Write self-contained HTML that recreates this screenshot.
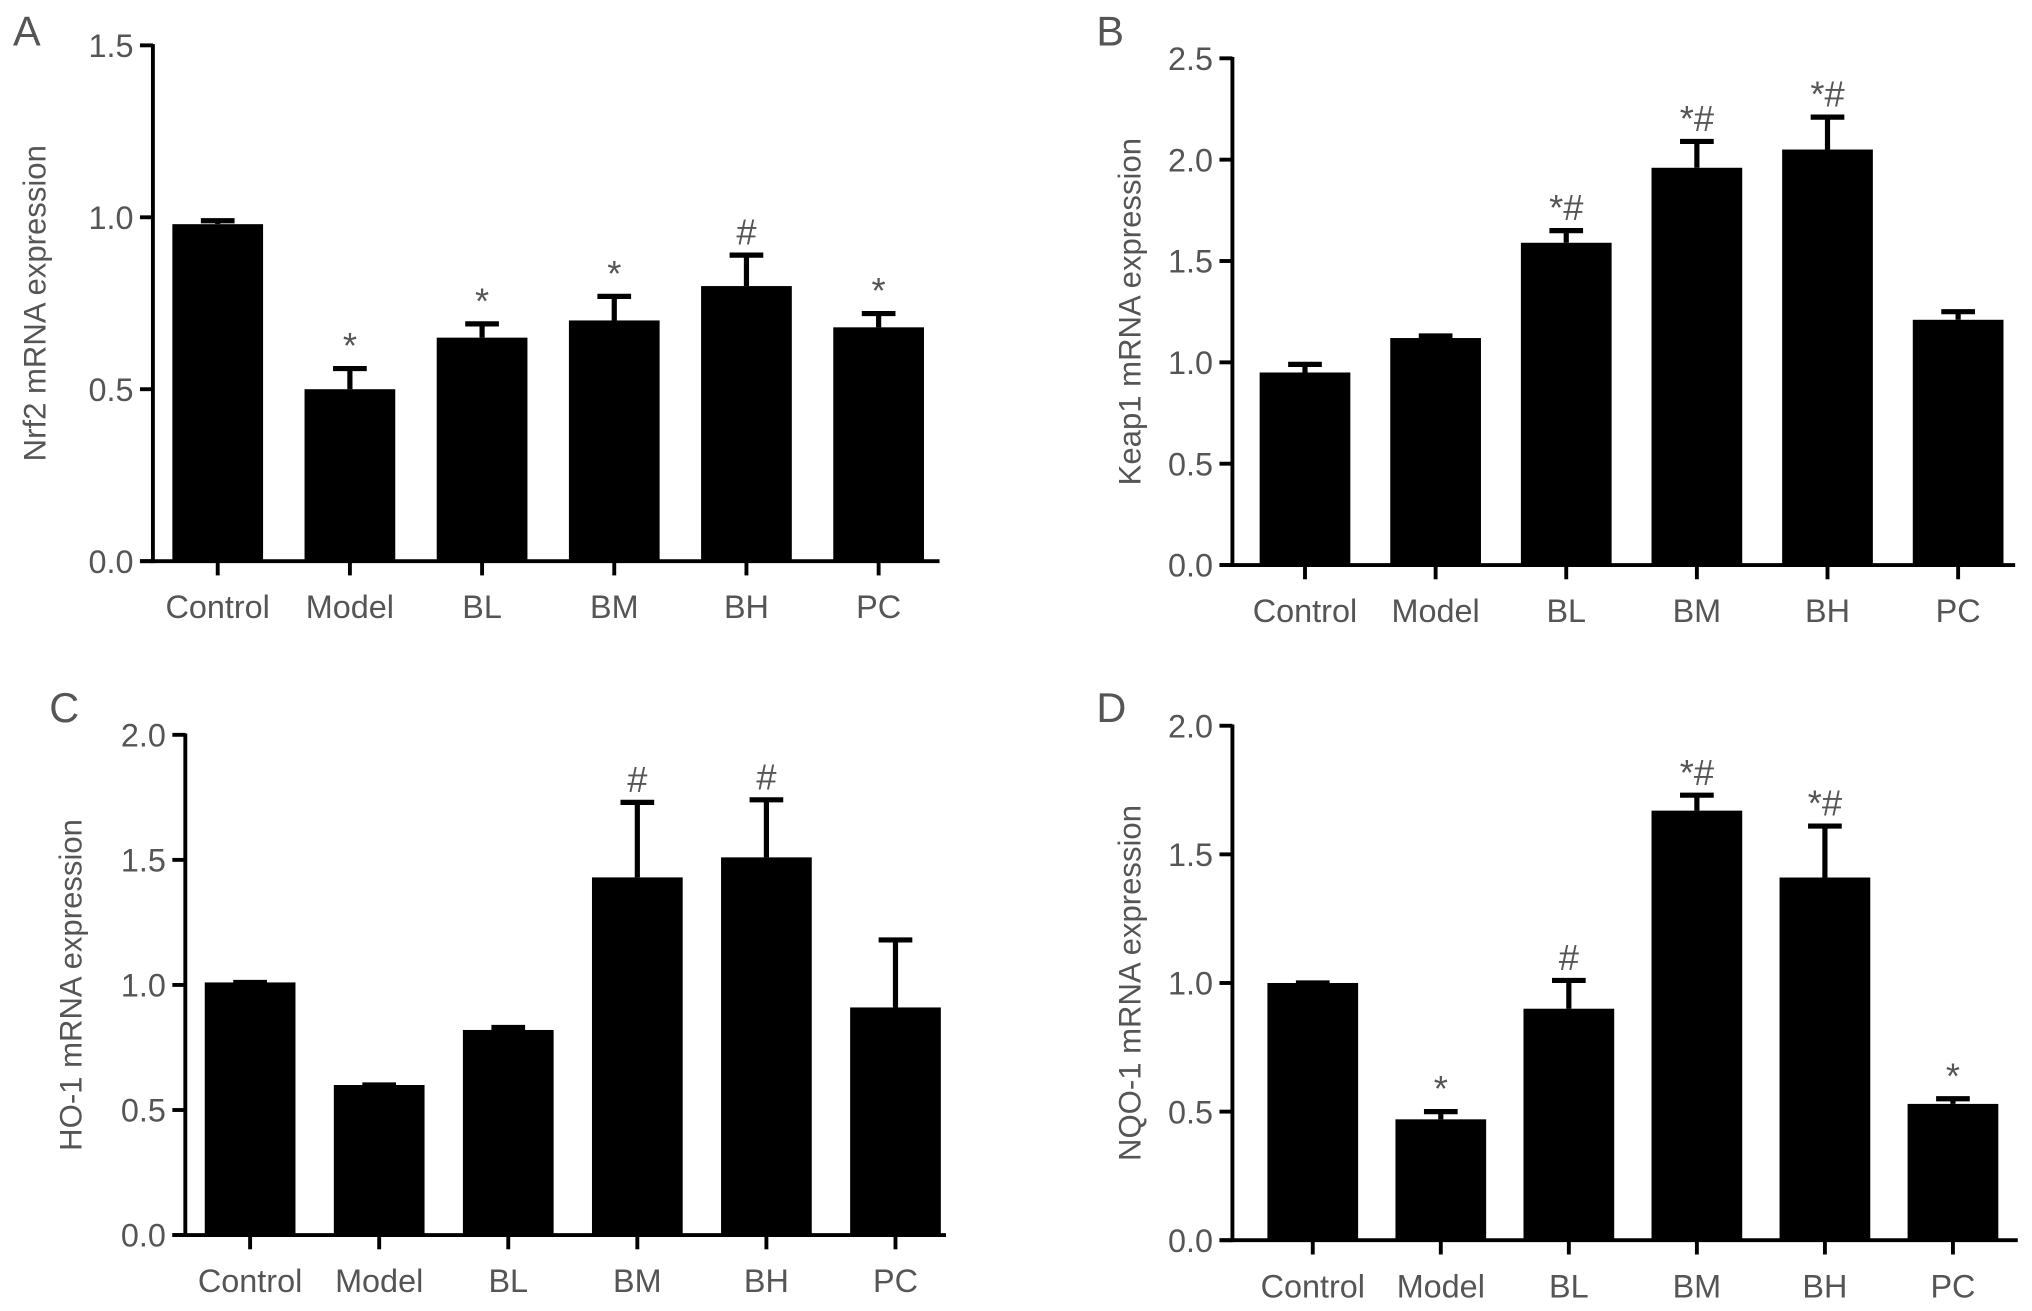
<!DOCTYPE html>
<html><head><meta charset="utf-8"><style>
html,body{margin:0;padding:0;background:#fff;}
svg{display:block;}
text{font-family:"Liberation Sans",sans-serif;fill:#555;}
</style></head><body>
<svg id="fig" width="2032" height="1311" viewBox="0 0 1568 1011.6" preserveAspectRatio="none" xmlns="http://www.w3.org/2000/svg"></svg>
<script>
const categories = ["Control","Model","BL","BM","BH","PC"];
const nrf2Values = [0.98,0.50,0.65,0.70,0.80,0.68];
const nrf2Errors = [0.01,0.06,0.04,0.07,0.09,0.04];
const nrf2Marks = ["","*","*","*","#","*"];
const nrf2Ticks = [0,0.5,1.0,1.5];
const keap1Values = [0.95,1.12,1.59,1.96,2.05,1.21];
const keap1Errors = [0.04,0.01,0.06,0.13,0.16,0.04];
const keap1Marks = ["","","*#","*#","*#",""];
const keap1Ticks = [0,0.5,1.0,1.5,2.0,2.5];
const ho1Values = [1.01,0.60,0.82,1.43,1.51,0.91];
const ho1Errors = [0.0,0.0,0.01,0.30,0.23,0.27];
const ho1Marks = ["","","","#","#",""];
const ho1Ticks = [0,0.5,1.0,1.5,2.0];
const nqo1Values = [1.00,0.47,0.90,1.67,1.41,0.53];
const nqo1Errors = [0.0,0.03,0.11,0.06,0.20,0.02];
const nqo1Marks = ["","*","#","*#","*#","*"];
const nqo1Ticks = [0,0.5,1.0,1.5,2.0];

const NS="http://www.w3.org/2000/svg";
const svg=document.getElementById('fig');
function mk(tag,attrs,parent){const e=document.createElementNS(NS,tag);for(const k in attrs)e.setAttribute(k,attrs[k]);(parent||svg).appendChild(e);return e;}

function panel(cfg){
  const g=mk('g',{});
  
  
  const yMax=cfg.ticks[cfg.ticks.length-1];
  const y=v=>cfg.y0-(v/yMax)*(cfg.y0-cfg.yTop);
  const step=(cfg.xLast-cfg.xFirst)/(categories.length-1);
  const x=i=>cfg.xFirst+i*step;
  const L=mk('text',{x:cfg.letterX,y:cfg.letterY,'font-size':32,fill:'#222'},g);L.textContent=cfg.letter;
  
  
  cfg.values.forEach((v,i)=>{
    const cx=x(i),bw=70;
    const r=mk('rect',{x:cx-bw/2,y:y(v),width:bw,height:cfg.y0-y(v),fill:'#000'},g);
    
    
    const top=v+cfg.errors[i];
    const e=mk('path',{d:`M${cx} ${y(v)}V${y(top)}M${cx-13} ${y(top)}H${cx+13}`,stroke:'#000','stroke-width':4,fill:'none'},g);
    
    
    if(cfg.marks[i]){
      const t=mk('text',{x:cx,y:y(top)-8,'font-size':28,'text-anchor':'middle'},g);t.textContent=cfg.marks[i];
      
      
    }
    const tk=mk('line',{x1:cx,x2:cx,y1:cfg.y0,y2:cfg.y0+11,stroke:'#000','stroke-width':3},g);
    
    
    const lb=mk('text',{x:cx,y:cfg.y0+44,'font-size':25,'text-anchor':'middle'},g);lb.textContent=categories[i];
    
    
  });
  const ya=mk('line',{x1:cfg.ax,x2:cfg.ax,y1:cfg.yTop-1,y2:cfg.y0+1.5,stroke:'#000','stroke-width':3},g);
  
  
  const xa=mk('line',{x1:cfg.ax-10,x2:cfg.xEnd,y1:cfg.y0,y2:cfg.y0,stroke:'#000','stroke-width':3},g);
  
  
  cfg.ticks.forEach(t=>{
    const l=mk('line',{x1:cfg.ax-10,x2:cfg.ax,y1:y(t),y2:y(t),stroke:'#000','stroke-width':3},g);
    
    
    const tx=mk('text',{x:cfg.ax-15,y:y(t)+9,'font-size':25,'text-anchor':'end'},g);tx.textContent=t.toFixed(1);
    
    
  });
  const mid=(cfg.y0+cfg.yTop)/2;
  const yt=mk('text',{x:0,y:0,'font-size':24,'text-anchor':'middle',transform:`translate(${cfg.titleX},${mid}) rotate(-90)`},g);
  yt.textContent=cfg.title;
  
  
}
panel({letter:'A',letterX:10,letterY:35,ax:118,y0:433,yTop:35,xFirst:168,xLast:678,xEnd:725,ticks:nrf2Ticks,values:nrf2Values,errors:nrf2Errors,marks:nrf2Marks,title:'Nrf2 mRNA expression',titleX:35});
panel({letter:'B',letterX:846,letterY:35,ax:951,y0:436,yTop:45,xFirst:1007,xLast:1511,xEnd:1555,ticks:keap1Ticks,values:keap1Values,errors:keap1Errors,marks:keap1Marks,title:'Keap1 mRNA expression',titleX:880});
panel({letter:'C',letterX:38,letterY:557,ax:143,y0:953,yTop:567,xFirst:193,xLast:691,xEnd:730,ticks:ho1Ticks,values:ho1Values,errors:ho1Errors,marks:ho1Marks,title:'HO-1 mRNA expression',titleX:63});
panel({letter:'D',letterX:846,letterY:557,ax:951,y0:957,yTop:560,xFirst:1013,xLast:1507,xEnd:1557,ticks:nqo1Ticks,values:nqo1Values,errors:nqo1Errors,marks:nqo1Marks,title:'NQO-1 mRNA expression',titleX:880});
</script>
</body></html>
